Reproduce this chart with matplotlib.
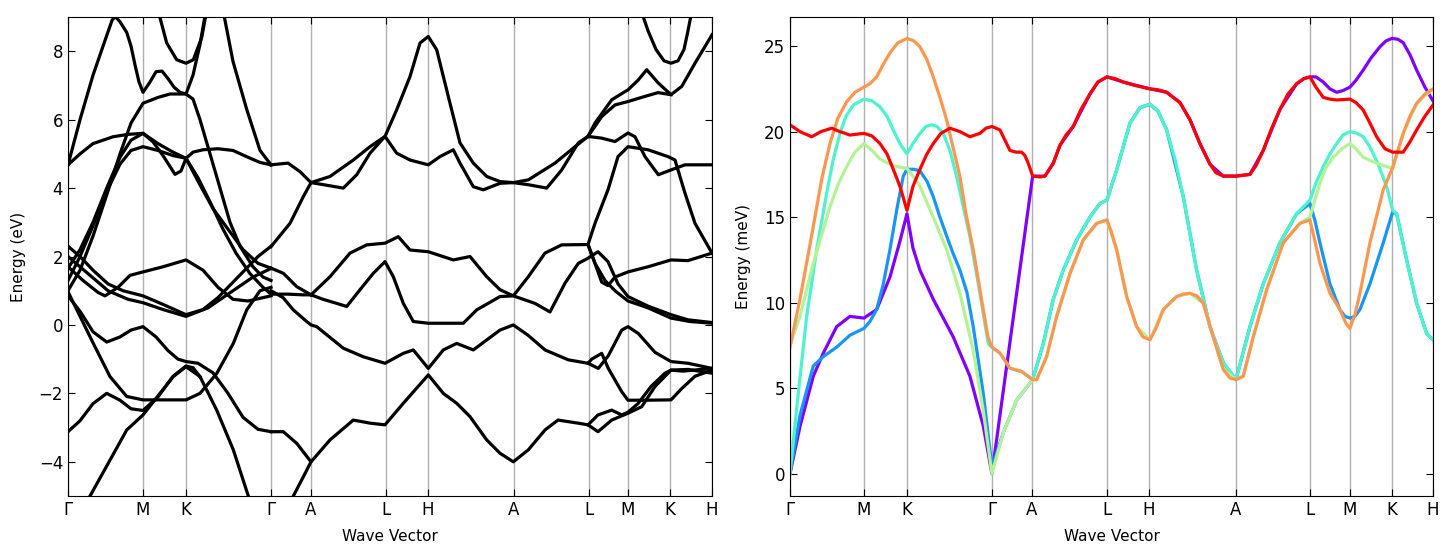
import matplotlib.pyplot as plt
import numpy as np

# high-symmetry path (same labels on both panels)
tick_labels = ['Γ', 'M', 'K', 'Γ', 'A', 'L', 'H', 'A', 'L', 'M', 'K', 'H']
el_ticks = [0, 75, 118, 203, 243, 318, 360, 446, 521, 560, 602, 644]
ph_ticks = [0, 74, 117, 202, 242, 317, 359, 446, 520, 560, 602, 643]

# ---- electronic bands (k, eV), traced strand by strand ----
el_01 = [(0, 4.68), (12, 6.0), (25, 7.3), (38, 8.4), (44, 8.9), (47, 9.02), (52, 8.86), (58.7, 8.55), (63, 8.15),
         (67, 7.6), (71, 7.1), (75, 6.8), (82, 7.1), (88, 7.4), (94, 7.42), (100, 7.2), (106, 6.95), (112, 6.8),
         (118, 6.75), (125, 7.3), (132, 8.2), (138, 9.2)]
el_02 = [(90, 9.2), (98.7, 8.24), (108.7, 7.75), (118, 7.65), (125.3, 7.75), (133.7, 8.4), (138.7, 9.2)]
el_03 = [(0, 1.0), (12, 1.6), (25, 2.6), (38.7, 3.8), (52, 5.0), (63, 5.9), (75, 6.48), (90, 6.65), (102, 6.75),
         (118, 6.75), (125, 6.6), (132, 6.0), (142, 5.0), (152, 4.0), (162, 3.0), (172, 2.3), (185, 1.7), (195, 1.4),
         (203, 1.3)]
el_04 = [(0, 4.68), (12, 5.0), (25, 5.3), (45, 5.5), (60, 5.57), (75, 5.6), (85, 5.35), (95, 4.95), (107, 4.4),
         (113, 4.5), (118, 4.87), (125, 5.05), (135, 5.12), (150, 5.15), (165, 5.1), (180, 4.9), (192, 4.75), (203, 4.68)]
el_05 = [(0, 1.66), (12, 2.2), (25, 3.0), (38.7, 4.0), (52, 4.9), (63, 5.4), (75, 5.6), (90, 5.3), (105, 5.05),
         (118, 4.87), (130, 4.3), (142, 3.6), (155, 2.8), (168, 2.1), (182, 1.5), (195, 1.1), (203, 0.9)]
el_06 = [(0, 1.3), (12, 2.0), (25, 2.9), (38.7, 3.9), (52, 4.7), (63, 5.1), (75, 5.21), (90, 5.1), (105, 4.95),
         (118, 4.87), (130, 4.2), (145, 3.4), (160, 2.8), (175, 2.2), (190, 1.8), (203, 1.66)]
el_07 = [(155, 9.2), (165, 7.7), (178.7, 6.3), (192, 5.1), (203, 4.68)]
el_08 = [(0, 2.3), (12, 2.0), (25, 1.6), (40, 1.2), (55, 1.0), (75, 0.85), (95, 0.6), (118, 0.3), (135, 0.45),
         (150, 0.8), (170, 1.4), (190, 2.0), (203, 2.3)]
el_09 = [(0, 1.7), (15, 1.3), (30, 0.95), (37, 0.85), (50, 1.1), (62, 1.45), (75, 1.55), (95, 1.7), (118, 1.9),
         (135, 1.6), (150, 1.1), (165, 0.75), (180, 0.7), (203, 0.85)]
el_10 = [(0, 2.0), (20, 1.5), (40, 1.0), (60, 0.75), (75, 0.65), (95, 0.45), (118, 0.25), (140, 0.5), (165, 1.0),
         (185, 1.4), (203, 1.65)]
el_11 = [(0, 0.85), (12, 0.4), (25, -0.2), (38.7, -0.5), (52, -0.35), (63, -0.15), (75, -0.05), (88, -0.35),
         (100, -0.75), (110, -1.0), (118, -1.07), (130, -1.12), (145, -1.4), (160, -2.0), (175, -2.7), (190, -3.05),
         (203, -3.12)]
el_12 = [(15, -5.3), (22, -5.0), (42, -3.95), (58.7, -3.07), (75, -2.63), (92, -2.0), (105.3, -1.51), (118, -1.22),
         (132, -1.51), (148.7, -2.49), (165.3, -3.65), (180.3, -5.0), (185, -5.3)]
el_13 = [(0, -3.12), (12, -2.8), (25, -2.3), (38.7, -2.0), (52, -2.2), (63, -2.45), (75, -2.5), (90, -2.1),
         (105, -1.5), (118, -1.2), (125, -1.25), (132, -1.51)]
el_14 = [(0, 0.97), (25.3, -0.54), (42, -1.51), (58.7, -2.09), (75, -2.19), (118, -2.19), (132, -2.0),
         (148.7, -1.42), (165.3, -0.54), (178.7, 0.44), (192, 1.0), (203, 1.1)]
el_15 = [(203, 4.68), (220, 4.73), (232, 4.48), (243, 4.16), (262, 4.34), (285.3, 4.82), (302, 5.21), (317, 5.51),
         (328.7, 6.29), (342, 7.26), (352, 8.24), (360.3, 8.43), (368.7, 8.04), (382, 6.48), (392, 5.32),
         (405.3, 4.73), (418.7, 4.34), (432, 4.19), (445.3, 4.16), (460.3, 4.24), (487, 4.73), (507, 5.21),
         (520, 5.51), (527, 5.9), (543.7, 6.58), (557, 6.82), (560, 6.87), (570.3, 7.16), (578.7, 7.46),
         (590.3, 7.07), (603, 6.73), (613.7, 6.97), (627, 7.65), (644, 8.48)]
el_16 = [(243, 4.16), (255.3, 4.1), (275.3, 4.0), (288.7, 4.39), (302, 5.02), (317, 5.51), (328.7, 5.02),
         (342, 4.82), (360.3, 4.68), (372, 4.92), (385.3, 5.12), (392, 4.73), (405.3, 4.04), (415.3, 3.95),
         (432, 4.14), (445.3, 4.16), (460, 4.1), (478.7, 4.0), (493.7, 4.53), (510.3, 5.32), (520, 5.51),
         (533.7, 5.46), (547, 5.36), (560, 5.61), (567, 5.5), (577, 4.92), (590.3, 4.39), (603, 4.53), (617, 4.68),
         (644, 4.68)]
el_17 = [(243, 0.88), (262, 1.41), (282, 2.1), (298.7, 2.34), (317, 2.39), (330.3, 2.58), (342, 2.19),
         (360.3, 2.14), (385.3, 1.9), (402, 2.0), (418.7, 1.41), (432, 1.03), (445.3, 0.85), (460.3, 1.41),
         (477, 2.1), (493.7, 2.34), (520, 2.35), (527, 2.97), (540, 3.95), (550, 4.92), (560, 5.21), (580, 5.12),
         (600, 4.92), (607, 4.82), (617, 3.85), (627, 2.97), (644, 2.1)]
el_18 = [(520, 5.51), (533.7, 6.09), (547, 6.43), (560, 6.53), (577, 6.68), (590, 6.79), (603, 6.73)]
el_19 = [(573, 9.2), (580, 8.6), (588, 8.05), (596, 7.72), (603, 7.65), (610, 7.72), (616, 8.05), (620, 8.6),
         (624, 9.2)]
el_20 = [(203, 2.29), (222, 2.97), (235.3, 3.75), (243, 4.16)]
el_21 = [(203, 1.66), (215.3, 1.51), (228.7, 1.12), (243, 0.88), (255, 0.75), (268.7, 0.63), (278.7, 0.54),
         (292, 1.03), (305.3, 1.51), (317, 1.85), (325.3, 1.41), (335.3, 0.63), (345.3, 0.1), (360.3, 0.05),
         (378.7, 0.05), (395.3, 0.05), (408.7, 0.44), (432, 0.83), (445.3, 0.85), (467, 0.63), (482, 0.38),
         (497, 1.22), (510.3, 1.8), (520, 1.95), (530, 2.14), (540, 1.85), (550, 1.2), (560, 0.83), (580, 0.55),
         (603, 0.3), (620, 0.15), (644, 0.07)]
el_22 = [(520, 2.35), (527, 1.8), (537, 1.3), (547, 1.0), (560, 0.7), (580, 0.5), (603, 0.2), (622, 0.1),
         (644, 0.05)]
el_23 = [(520, 2.35), (527, 1.8), (533.7, 1.25), (540, 1.15), (547, 1.4), (560, 1.55), (580, 1.7), (603, 1.9),
         (620, 1.88), (644, 2.1)]
el_24 = [(203, 1.0), (215, 0.8), (225.3, 0.44), (238.7, 0.1), (243, 0.0), (248.7, -0.05), (275.3, -0.68),
         (295.3, -0.93), (317, -1.12), (335.3, -0.83), (345.3, -0.73), (360.3, -1.27), (375.3, -0.73),
         (388.7, -0.54), (405.3, -0.73), (432, -0.15), (445.3, 0.0), (460, -0.3), (477, -0.73), (500.3, -1.02),
         (520, -1.12), (523.7, -1.0), (533.7, -0.83), (540.3, -1.27), (553.7, -1.95), (560, -2.2), (577, -2.2),
         (603, -2.19), (613.7, -1.86), (627, -1.5), (644, -1.32)]
el_25 = [(520, -1.12), (530.3, -1.27), (540.3, -0.9), (553.7, -0.15), (560, -0.05), (570.3, -0.25), (587, -0.8),
         (603, -1.07), (620, -1.12), (644, -1.27)]
el_26 = [(203, -3.12), (215.3, -3.12), (228.7, -3.46), (243, -4.0), (262, -3.36), (285.3, -2.78), (302, -2.87),
         (317, -2.92), (335.3, -2.29), (360.3, -1.46), (375.3, -2.0), (388.7, -2.29), (402, -2.68), (418.7, -3.36),
         (432, -3.75), (445.3, -4.0), (460.3, -3.65), (477, -3.07), (490, -2.78), (510, -2.87), (520, -2.92),
         (530, -3.12), (543.7, -2.78), (560, -2.58), (573.7, -2.39), (587, -1.8), (603, -1.32), (620, -1.3),
         (644, -1.41)]
el_27 = [(520, -2.92), (530, -2.63), (543.7, -2.49), (553.7, -2.63), (560, -2.55), (570, -2.3), (583, -1.8),
         (597, -1.41), (603, -1.32), (615, -1.35), (644, -1.27)]
el_28 = [(222, -5.3), (225.3, -5.0), (235.3, -4.44), (243, -4.0)]
el_29 = [(203, 0.9), (220, 0.9), (235, 0.88), (243, 0.88)]

el_strands = [el_01, el_02, el_03, el_04, el_05, el_06, el_07, el_08, el_09, el_10, el_11, el_12, el_13, el_14,
              el_15, el_16, el_17, el_18, el_19, el_20, el_21, el_22, el_23, el_24, el_25, el_26, el_27, el_28, el_29]

# ---- phonon branches (k, meV) ----
ph_purple = [(0, 0), (10, 2.76), (23.3, 5.7), (33.3, 7.05), (46.7, 8.6), (60, 9.2), (74, 9.1), (86.7, 9.6),
             (100, 11.5), (110, 13.6), (117, 15.2), (123, 13.2), (130, 11.9), (143.3, 10.2), (163.3, 8.0), (180, 5.7),
             (193.3, 2.8), (202, 0), (242.7, 17.4), (255, 17.4), (263.3, 18.15), (270, 19.2), (283.3, 20.3),
             (300, 22.2), (308, 22.9), (317, 23.2), (333.3, 22.9), (360, 22.5), (376.7, 22.3), (390, 21.7),
             (400, 20.7), (410, 19.3), (420, 18.1), (433.3, 17.4), (446, 17.4), (460, 17.5), (473.3, 18.9),
             (490, 21.3), (506.7, 22.8), (514, 23.1), (520, 23.2), (526, 23.2), (533.3, 22.9), (540, 22.5),
             (546.7, 22.3), (553, 22.4), (560, 22.6), (566, 23.0), (573.3, 23.6), (581, 24.3), (590, 24.96),
             (596, 25.3), (602, 25.45), (608, 25.4), (613.3, 25.2), (620, 24.5), (626.7, 23.6), (635, 22.6),
             (643, 21.8)]
ph_blue = [(0, 0), (10, 3.4), (23.3, 6.3), (33.3, 6.85), (46.7, 7.4), (60, 8.1), (74, 8.5), (80, 8.9), (86.7, 9.6),
           (93, 11.0), (100, 13.1), (107, 15.5), (113.3, 17.4), (117, 17.8), (124, 17.8), (130, 17.7), (137, 17.1),
           (143.3, 16.2), (150, 15.0), (156.7, 13.9), (163, 12.9), (170, 11.9), (177, 10.6), (183.3, 8.6),
           (193.3, 4.7), (202, 0.4), (213.3, 2.4), (226.7, 4.3), (242.7, 5.5), (253.3, 7.6),
           (263.3, 10.2), (273.3, 11.9), (286.7, 13.67), (300, 15.0), (310, 15.8), (317, 16.0), (326.7, 17.76),
           (340, 20.5), (350, 21.4), (360, 21.6), (368, 21.2), (376.7, 20.1), (393.3, 16.2), (406.7, 11.9),
           (420, 8.6), (433.3, 6.5), (446, 5.5), (460, 8.6), (473.3, 11.1), (490, 13.5), (506.7, 15.2), (520, 15.8),
           (525, 14.8), (530, 13.5), (540, 11.1), (550, 9.6), (555, 9.2), (560, 9.1), (565, 9.2), (570, 9.6),
           (580, 11.1), (593.3, 13.5), (602.7, 15.3), (606.7, 15.2), (616.7, 12.5), (626.7, 9.97), (636.7, 8.2),
           (643, 7.83)]
ph_cyan = [(0, 0), (8.3, 4.7), (16.7, 9.2), (26.7, 13.1), (36.7, 16.4), (43, 18.3), (50, 19.9), (56, 20.9),
           (63.3, 21.55), (74, 21.9), (82, 21.8), (90, 21.45), (97, 20.9), (103.3, 20.1), (110, 19.3), (117, 18.7),
           (123, 19.3), (130, 19.9), (136, 20.3), (141.7, 20.4), (147, 20.3), (153.3, 19.9), (160, 18.9),
           (166.7, 17.37), (173, 15.7), (180, 13.86), (190, 10.55), (198.3, 7.6), (202, 7.4), (210, 7.06),
           (220, 6.17), (231.7, 5.98), (242.7, 5.5), (253.3, 7.6), (263.3, 10.2), (273.3, 11.9), (286.7, 13.67),
           (300, 15.0), (310, 15.8), (317, 16.0), (326.7, 17.76), (340, 20.5), (350, 21.4), (360, 21.6),
           (368, 21.2), (376.7, 20.1), (385, 18.4), (393.3, 16.2), (406.7, 11.9), (420, 8.6), (433.3, 6.5),
           (446, 5.5), (460, 8.6), (473.3, 11.1), (490, 13.5), (506.7, 15.2), (520, 16.0), (526, 17.0),
           (533.3, 17.95), (540, 18.7), (546.7, 19.3), (553, 19.8), (560, 20.0), (567, 19.9), (573.3, 19.7),
           (580, 19.1), (586.7, 18.3), (596.7, 16.8), (602.7, 15.4), (606.7, 15.2), (611, 14.0), (616.7, 12.5),
           (626.7, 9.97), (636.7, 8.2), (643, 7.83)]
ph_green = [(0, 7.5), (10, 9.2), (23.3, 12.3), (40, 15.6), (48, 16.9), (56.7, 17.95), (65, 18.8), (74, 19.3),
            (82, 18.9), (90, 18.4), (103.3, 18.0), (117, 17.85), (123, 17.4), (130, 16.8), (143.3, 15.0),
            (156.7, 13.1), (170, 10.55), (183.3, 7.2), (193.3, 3.7), (202, 0), (213.3, 2.4), (226.7, 4.3),
            (242.7, 5.5), (246.7, 5.5), (256.7, 6.85), (266.7, 9.2), (280, 11.7), (293.3, 13.67), (306.7, 14.64),
            (317, 14.84), (326.7, 13.1), (336.7, 10.36), (346.7, 8.6), (360, 7.83), (373.3, 9.6), (386.7, 10.36),
            (400, 10.55), (413.3, 9.97), (423.3, 8.0), (433.3, 6.1), (446, 5.5), (453.3, 5.7), (463.3, 8.0),
            (476.7, 10.75), (493.3, 13.5), (510, 14.64), (520, 15.0), (530, 17.0), (536, 17.9), (543.3, 18.5),
            (552, 19.0), (560, 19.3), (566, 19.0), (573.3, 18.5), (586.7, 18.15), (602.7, 17.85), (613.3, 19.9),
            (626.7, 21.65), (643, 22.5)]
ph_orange = [(0, 7.4), (10, 10.2), (23.3, 14.45), (32, 17.3), (40, 19.3), (48, 20.8), (56.7, 21.75), (65, 22.3),
             (74, 22.6), (80, 22.8), (86.7, 23.2), (93, 23.9), (100, 24.6), (108, 25.2), (117, 25.45), (124, 25.3),
             (130, 24.96), (137, 24.2), (143.3, 23.2), (150, 22.0), (156.7, 20.68), (163, 19.1), (170, 17.37),
             (176, 15.2), (183.3, 13.1), (193.3, 9.6), (198, 8.0), (202, 7.4), (210, 7.06), (220, 6.17),
             (231.7, 5.98), (242.7, 5.5), (246.7, 5.5), (256.7, 6.85), (266.7, 9.2), (280, 11.7), (293.3, 13.67),
             (306.7, 14.64), (317, 14.84), (321, 14.2), (326.7, 13.1), (336.7, 10.36), (346.7, 8.6), (353, 8.0),
             (360, 7.83), (366, 8.5), (373.3, 9.6), (386.7, 10.36), (393, 10.5), (400, 10.55), (407, 10.4),
             (413.3, 9.97), (423.3, 8.0), (433.3, 6.1), (440, 5.6), (446, 5.5), (453.3, 5.7), (463.3, 8.0),
             (476.7, 10.75), (493.3, 13.5), (510, 14.64), (520, 14.84), (525, 13.6), (530, 12.3), (540, 10.55),
             (550, 9.6), (556, 8.8), (560, 8.5), (565, 9.3), (570, 10.55), (580, 13.5), (593.3, 16.6),
             (602.7, 17.9), (613.3, 19.9), (620, 20.9), (626.7, 21.65), (635, 22.2), (643, 22.5)]
ph_red = [(0, 20.4), (10, 20.0), (21.7, 19.7), (31, 20.0), (41.7, 20.2), (50, 20.0), (60, 19.8), (74, 19.9),
          (82, 19.75), (90, 19.3), (97, 18.7), (103.3, 17.8), (110, 16.8), (117, 15.4), (123, 16.8), (130, 17.8),
          (137, 18.7), (143.3, 19.3), (151, 19.9), (160, 20.2), (170, 20.0), (180, 19.7), (190, 19.9), (196, 20.2),
          (202, 20.3), (210, 20.1), (215, 19.5), (220, 18.9), (226, 18.8), (231.7, 18.8), (235, 18.6),
          (238.3, 18.15), (242.7, 17.4), (250, 17.35), (255, 17.4), (263.3, 18.15), (270, 19.2), (276, 19.8),
          (283.3, 20.3), (291, 21.3), (300, 22.2), (308, 22.9), (317, 23.2), (325, 23.1), (333.3, 22.9),
          (345, 22.7), (360, 22.5), (368, 22.45), (376.7, 22.3), (390, 21.7), (400, 20.7), (410, 19.3),
          (420, 18.1), (426, 17.6), (433.3, 17.4), (446, 17.4), (460, 17.5), (466, 18.0), (473.3, 18.9),
          (481, 20.1), (490, 21.3), (498, 22.2), (506.7, 22.8), (514, 23.1), (520, 23.2), (526, 22.6),
          (533.3, 22.0), (540, 21.9), (546.7, 21.85), (560, 21.9), (566, 21.7), (573.3, 21.26), (580, 20.5),
          (586.7, 19.7), (595, 19.0), (602.7, 18.8), (613.3, 18.8), (620, 19.4), (626.7, 20.1), (635, 20.9),
          (643, 21.55)]

ph_branches = [ph_purple, ph_blue, ph_cyan, ph_green, ph_orange, ph_red]
ph_colors = plt.cm.rainbow(np.linspace(0, 1, len(ph_branches)))


def style_axes(ax, ticks, ylabel):
    for t in ticks:
        ax.axvline(t, color='#b0b0b0', lw=1.0, zorder=0)
    ax.set_xticks(ticks)
    ax.set_xticklabels(tick_labels, fontsize=13)
    ax.set_xlim(ticks[0], ticks[-1])
    ax.tick_params(direction='in', top=True, right=True, labelsize=12, length=5)
    ax.set_xlabel('Wave Vector', fontsize=11, labelpad=7)
    ax.set_ylabel(ylabel, fontsize=11, labelpad=9)


fig = plt.figure(figsize=(14.41, 5.47), dpi=100)
ax1 = fig.add_axes([0.0472, 0.0932, 0.4469, 0.8757])
ax2 = fig.add_axes([0.5482, 0.0932, 0.4462, 0.8757])

for strand in el_strands:
    k, e = zip(*strand)
    ax1.plot(k, e, color='black', lw=2.3, solid_joinstyle='round')
style_axes(ax1, el_ticks, 'Energy (eV)')
ax1.set_ylim(-5, 9)
ax1.set_yticks([-4, -2, 0, 2, 4, 6, 8])

for branch, c in zip(ph_branches, ph_colors):
    k, e = zip(*branch)
    ax2.plot(k, e, color=c, lw=2.3, solid_joinstyle='round')
style_axes(ax2, ph_ticks, 'Energy (meV)')
ax2.set_ylim(-1.3, 26.7)
ax2.set_yticks([0, 5, 10, 15, 20, 25])

fig.savefig('out.png', dpi=100)
